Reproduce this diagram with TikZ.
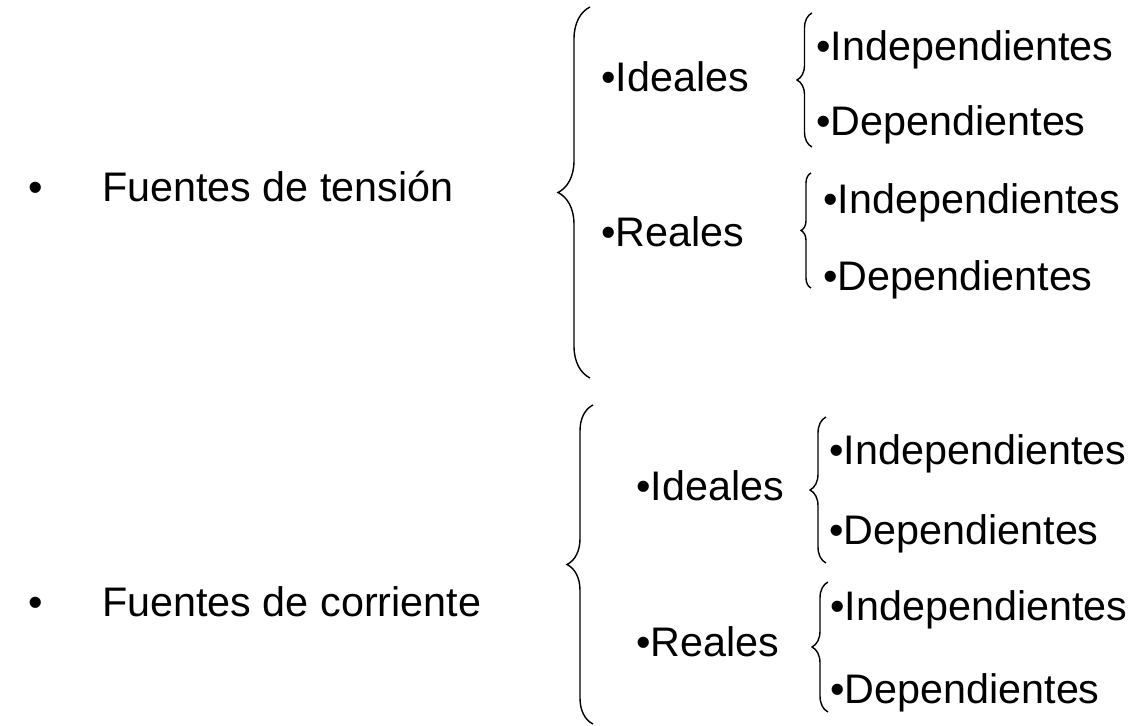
\documentclass[tikz,border=0pt]{standalone}
\usepackage{fontspec}
\setmainfont{Liberation Sans}
\usetikzlibrary{positioning,decorations.pathreplacing}

\begin{document}
\begin{tikzpicture}[x=0.2mm, y=-0.2mm,
    item/.style={anchor=base west, inner sep=0pt, font=\fontsize{23.5}{28}\selectfont},
    curly/.style={decorate, decoration={brace, amplitude=#1}, line width=0.8pt}
]
\useasboundingbox (0,0) rectangle (1143,726);

% Main items
\node[item] (dot1) at (28,202) {•};
\node[item] (tension) at (102,202) {Fuentes de tensión};
\node[item] (dot2) at (28,616) {•};
\node[item] (corriente) at (102,616) {Fuentes de corriente};

% Second level
\node[item] (ideal1) at (601,92) {•Ideales};
\node[item] (real1) at (601,247) {•Reales};
\node[item] (ideal2) at (636,501) {•Ideales};
\node[item] (real2) at (636,656) {•Reales};

% Third level
\node[item] (ind1) at (816,61) {•Independientes};
\node[item] (dep1) at (816,136) {•Dependientes};
\node[item] (ind2) at (823,214) {•Independientes};
\node[item] (dep2) at (823,291) {•Dependientes};
\node[item] (ind3) at (829,465) {•Independientes};
\node[item] (dep3) at (829,544) {•Dependientes};
\node[item] (ind4) at (830,620) {•Independientes};
\node[item] (dep4) at (830,703) {•Dependientes};

% Brace ends
\coordinate (B1t) at (590,7);   \coordinate (B1b) at (590,378);
\coordinate (B2t) at (593,405); \coordinate (B2b) at (593,724);
\coordinate (b1t) at (812,13);  \coordinate (b1b) at (812,147);
\coordinate (b2t) at (811,173); \coordinate (b2b) at (811,288);
\coordinate (b3t) at (826,417); \coordinate (b3b) at (826,563);
\coordinate (b4t) at (828,582); \coordinate (b4b) at (828,712);

% Braces
\draw[curly=6.4mm] (B1b) -- (B1t);
\draw[curly=5.2mm] (B2b) -- (B2t);
\draw[curly=3mm] (b1b) -- (b1t);
\draw[curly=2mm] (b2b) -- (b2t);
\draw[curly=3.2mm] (b3b) -- (b3t);
\draw[curly=3.2mm] (b4b) -- (b4t);

\end{tikzpicture}
\end{document}
